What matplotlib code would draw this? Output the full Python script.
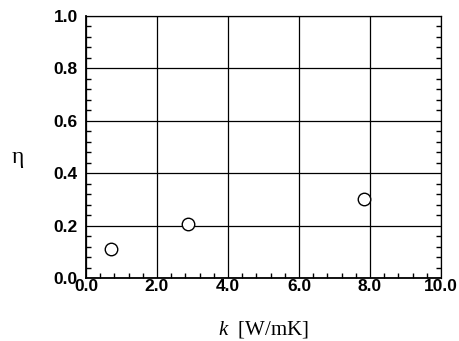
import matplotlib
matplotlib.use("Agg")
import matplotlib.pyplot as plt
from matplotlib.ticker import MultipleLocator, FormatStrFormatter

k_vals = [0.70, 2.86, 7.82]
eta_vals = [0.11, 0.207, 0.30]

plt.rcParams['mathtext.fontset'] = 'custom'
plt.rcParams['mathtext.it'] = 'Liberation Serif:italic'
plt.rcParams['mathtext.rm'] = 'Liberation Serif'

fig = plt.figure(figsize=(4.6, 3.41), dpi=100)
ax = fig.add_axes([86/460, 1-278/341, (441-86)/460, (278-16)/341])

ax.plot(k_vals, eta_vals, 'o', ms=9, mfc='white', mec='black', mew=1.0, zorder=5, clip_on=False)

ax.set_xlim(0, 10)
ax.set_ylim(0, 1)
ax.xaxis.set_major_locator(MultipleLocator(2))
ax.xaxis.set_minor_locator(MultipleLocator(0.4))
ax.yaxis.set_major_locator(MultipleLocator(0.2))
ax.yaxis.set_minor_locator(MultipleLocator(0.04))
ax.xaxis.set_major_formatter(FormatStrFormatter('%.1f'))
ax.yaxis.set_major_formatter(FormatStrFormatter('%.1f'))
ax.grid(True, which='major', color='black', lw=0.9)
ax.tick_params(which='both', direction='in', top=False, right=True, width=1.0)
ax.tick_params(which='major', length=0)
ax.tick_params(axis='x', which='major', pad=1)
ax.tick_params(axis='y', which='major', pad=6)
ax.tick_params(which='minor', length=3.5)
for s in ax.spines.values():
    s.set_linewidth(1.3)
ax.spines['top'].set_linewidth(0.9)
ax.spines['right'].set_linewidth(0.9)
for lab in ax.get_xticklabels() + ax.get_yticklabels():
    lab.set_fontfamily('Liberation Sans')
    lab.set_fontweight('bold')
    lab.set_fontsize(12.5)

fig.text(263/460, 1-329/341, r'$k$  [W/mK]', fontsize=15, family='Liberation Serif',
         ha='center', va='center')
fig.text(18/460, 1-157/341, 'η', fontsize=17, family='Liberation Serif', ha='center', va='center')

fig.savefig('out.png', dpi=100)
